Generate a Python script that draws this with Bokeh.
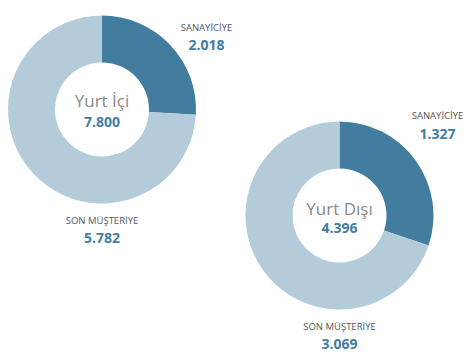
import math
from bokeh.plotting import figure
from bokeh.models import Range1d
from bokeh.core.properties import value
from bokeh.embed import file_html
from bokeh.resources import INLINE

# data
groups = ["Yurt İçi", "Yurt Dışı"]
totals = ["7.800", "4.396"]
segments = ["SANAYİCİYE", "SON MÜŞTERİYE"]
sanayiciye = [2018, 1327]
son_musteriye = [5782, 3069]
sanayiciye_labels = ["2.018", "1.327"]
son_musteriye_labels = ["5.782", "3.069"]

W, H = 465, 352
p = figure(width=W, height=H, output_backend="svg", toolbar_location=None,
           x_range=Range1d(0, W), y_range=Range1d(0, H), min_border=0)
p.axis.visible = False
p.grid.visible = False
p.outline_line_color = None
p.background_fill_color = "white"

DARK = "#427D9F"
LIGHT = "#B4CCD9"

def py(page_y):
    return H - page_y

def px(page_x):
    return page_x

centers = [(px(101.5), py(109)), (px(339), py(215))]
R_OUT, R_IN = 94, 47

for i, (cx, cy) in enumerate(centers):
    tot = sanayiciye[i] + son_musteriye[i]
    frac = sanayiciye[i] / tot
    a0 = math.pi / 2
    a1 = a0 - frac * 2 * math.pi
    p.annular_wedge(x=cx, y=cy, inner_radius=R_IN, outer_radius=R_OUT,
                    start_angle=a0, end_angle=a1, direction="clock",
                    fill_color=DARK, line_color=None)
    p.annular_wedge(x=cx, y=cy, inner_radius=R_IN, outer_radius=R_OUT,
                    start_angle=a1, end_angle=a0 - 2 * math.pi, direction="clock",
                    fill_color=LIGHT, line_color=None)

FONT = value("Open Sans")

# center titles
p.text(x=[c[0] for c in centers], y=[centers[0][1] + 9, centers[1][1] + 7],
       text=groups, text_font=FONT, text_font_size="17px", text_color="#8a8a8a",
       text_align="center", text_baseline="middle")
p.text(x=[c[0] for c in centers], y=[centers[0][1] - 12, centers[1][1] - 12],
       text=totals, text_font=FONT, text_font_size="14px", text_font_style="bold",
       text_color=DARK, text_align="center", text_baseline="middle")

# segment labels
lab_x = [px(206), px(101.5), px(437), px(339)]
lab_y = [py(27), py(220), py(115), py(326)]
val_y = [py(44), py(237), py(133), py(343)]
lab_txt = [segments[0], segments[1], segments[0], segments[1]]
val_txt = [sanayiciye_labels[0], son_musteriye_labels[0], sanayiciye_labels[1], son_musteriye_labels[1]]

p.text(x=lab_x, y=lab_y, text=lab_txt, text_font=FONT, text_font_size="9.5px",
       text_color="#555555", text_align="center", text_baseline="middle")
p.text(x=lab_x, y=val_y, text=val_txt, text_font=FONT, text_font_size="14px",
       text_font_style="bold", text_color=DARK, text_align="center", text_baseline="middle")

open("out.html", "w").write(file_html(p, INLINE))
